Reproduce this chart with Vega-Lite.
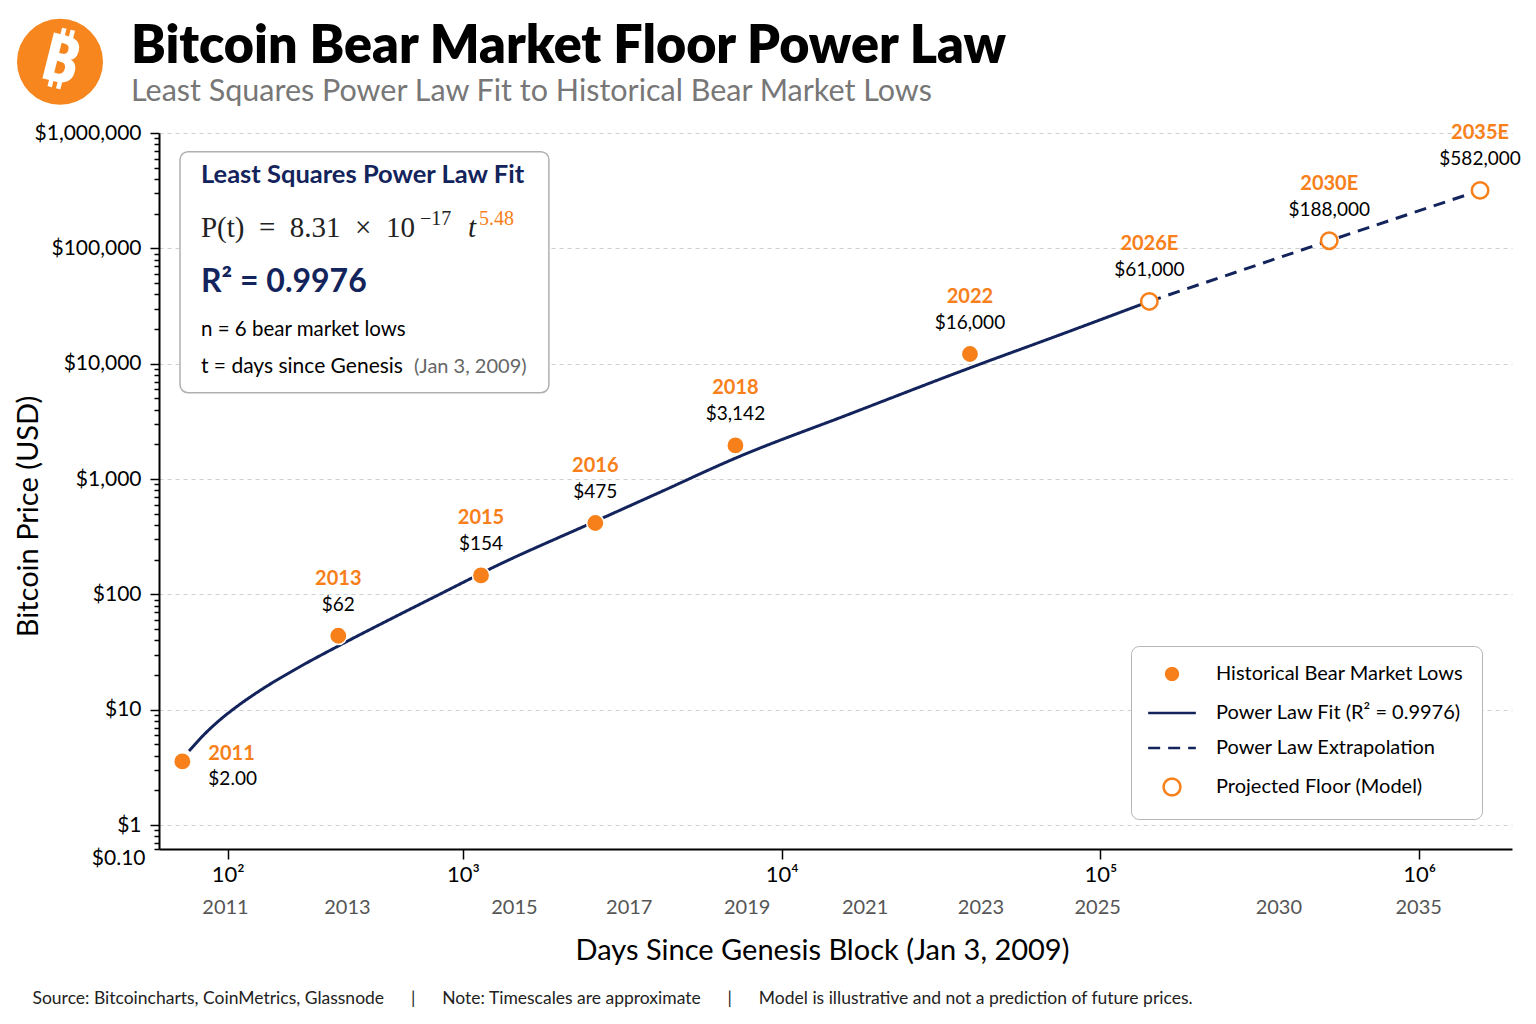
{
  "$schema": "https://vega.github.io/schema/vega-lite/v6.json",
  "usermeta": {"embedOptions": {"actions": false}},
  "width": 1353,
  "height": 716,
  "autosize": {"type": "none"},
  "padding": {"left": 159, "top": 133, "right": 24, "bottom": 175},
  "background": "white",
  "config": {"font": "Lato", "view": {"stroke": null}},
  "title": {
    "text": "Bitcoin Bear Market Floor Power Law",
    "subtitle": "Least Squares Power Law Fit to Historical Bear Market Lows",
    "anchor": "start",
    "frame": "group",
    "dx": -28,
    "offset": -90,
    "font": "Lato",
    "fontSize": 52,
    "fontWeight": 800,
    "color": "black",
    "subtitleFont": "Lato",
    "subtitleFontSize": 30.5,
    "subtitleColor": "#777777",
    "subtitlePadding": 3
  },
  "datasets": {
    "fit": [
      {"days": 68.42, "price": 4.385},
      {"days": 80.03, "price": 6.205},
      {"days": 92.68, "price": 8.173},
      {"days": 107.3, "price": 10.36},
      {"days": 137.1, "price": 14.67},
      {"days": 189.4, "price": 21.83},
      {"days": 300.1, "price": 36.33},
      {"days": 504.1, "price": 62.62},
      {"days": 798.6, "price": 100.5},
      {"days": 1251, "price": 172.7},
      {"days": 2593, "price": 428.2},
      {"days": 4146, "price": 767.3},
      {"days": 7176, "price": 1521},
      {"days": 16340, "price": 3662},
      {"days": 38860, "price": 9173},
      {"days": 74370, "price": 17730},
      {"days": 142400, "price": 34660}
    ],
    "points": [
      {"year": "2011", "label": "$2.00", "kind": "historical", "days": 64.1, "price": 3.56},
      {"year": "2013", "label": "$62", "kind": "historical", "days": 295, "price": 43.8},
      {"year": "2015", "label": "$154", "kind": "historical", "days": 1139, "price": 145.9},
      {"year": "2016", "label": "$475", "kind": "historical", "days": 2601, "price": 415.5},
      {"year": "2018", "label": "$3,142", "kind": "historical", "days": 7159, "price": 1955},
      {"year": "2022", "label": "$16,000", "kind": "historical", "days": 38960, "price": 12130},
      {"year": "2026E", "label": "$61,000", "kind": "projected", "days": 142400, "price": 34660},
      {"year": "2030E", "label": "$188,000", "kind": "projected", "days": 522300, "price": 116500},
      {"year": "2035E", "label": "$582,000", "kind": "projected", "days": 1553000, "price": 317900}
    ]
  },
  "resolve": {"axis": {"x": "independent"}},
  "layer": [
    {
      "data": {"name": "fit"},
      "mark": {"type": "line", "strokeWidth": 3, "interpolate": "monotone"},
      "encoding": {
        "x": {
          "field": "days",
          "type": "quantitative",
          "scale": {"type": "log", "domain": [51, 1000, 1956000], "range": [0, 304, 1353], "nice": false},
          "axis": {
            "orient": "bottom",
            "values": [100, 1000, 10000, 100000, 1000000],
            "labelExpr": "'10' + ['²','³','⁴','⁵','⁶'][round(log(datum.value)/LN10) - 2]",
            "title": null,
            "grid": false,
            "domainColor": "black",
            "domainWidth": 2,
            "tickColor": "black",
            "tickWidth": 1.5,
            "tickSize": 10,
            "labelFont": "Lato",
            "labelFontSize": 22,
            "labelColor": "black",
            "labelPadding": 5,
            "labelFlush": false,
            "labelOverlap": false
          }
        },
        "y": {
          "field": "price",
          "type": "quantitative",
          "scale": {"type": "log", "domain": [0.62, 1000000], "nice": false},
          "axis": {
            "values": [0.62, 0.7, 0.8, 0.9, 1, 2, 3, 4, 5, 6, 7, 8, 9, 10, 20, 30, 40, 50, 60, 70, 80, 90, 100, 200, 300, 400, 500, 600, 700, 800, 900, 1000, 2000, 3000, 4000, 5000, 6000, 7000, 8000, 9000, 10000, 20000, 30000, 40000, 50000, 60000, 70000, 80000, 90000, 100000, 200000, 300000, 400000, 500000, 600000, 700000, 800000, 900000, 1000000],
            "labelExpr": "datum.value < 0.65 ? '$0.10' : indexof([1,10,100,1000,10000,100000,1000000], datum.value) >= 0 ? '$' + format(datum.value, ',') : ''",
            "title": "Bitcoin Price (USD)",
            "titleFont": "Lato",
            "titleFontSize": 29,
            "titleFontWeight": "normal",
            "titleColor": "black",
            "titleX": -131,
            "titleY": 383,
            "titleBaseline": "middle",
            "grid": true,
            "gridDash": [4, 4],
            "gridColor": "#cfcfcf",
            "gridWidth": 1,
            "gridOpacity": {"condition": {"test": "indexof([1,10,100,1000,10000,100000,1000000], datum.value) >= 0", "value": 1}, "value": 0},
            "tickSize": {"condition": {"test": "indexof([1,10,100,1000,10000,100000,1000000], datum.value) >= 0", "value": 9}, "value": 5},
            "tickColor": "black",
            "tickWidth": 1.5,
            "domainColor": "black",
            "domainWidth": 2,
            "labelFont": "Lato",
            "labelFontSize": 21,
            "labelColor": "black",
            "labelPadding": 9,
            "labelOffset": {"condition": {"test": "datum.value < 0.65", "value": 9}, "value": 0},
            "labelOverlap": false,
            "labelBound": false
          }
        },
        "stroke": {
          "datum": "Power Law Fit (R² = 0.9976)",
          "type": "nominal",
          "scale": {
            "domain": ["Historical Bear Market Lows", "Power Law Fit (R² = 0.9976)", "Power Law Extrapolation", "Projected Floor (Model)"],
            "range": ["white", "#13235b", "#13235b", "#f7801a"]
          },
          "legend": {
            "title": null,
            "orient": "bottom-right",
            "offset": 30,
            "padding": 18,
            "fillColor": "white",
            "strokeColor": "#b5b5b5",
            "cornerRadius": 8,
            "labelFont": "Lato",
            "labelFontSize": 20,
            "labelColor": "black",
            "labelLimit": 400,
            "labelOffset": 34,
            "symbolOffset": 13,
            "symbolSize": 280,
            "symbolStrokeWidth": 2.5,
            "rowPadding": 15,
            "symbolOpacity": 1
          }
        },
        "strokeDash": {
          "datum": "Power Law Fit (R² = 0.9976)",
          "type": "nominal",
          "scale": {
            "domain": ["Historical Bear Market Lows", "Power Law Fit (R² = 0.9976)", "Power Law Extrapolation", "Projected Floor (Model)"],
            "range": [[1, 0], [1, 0], [12, 8], [1, 0]]
          },
          "legend": {"title": null}
        }
      }
    },
    {
      "data": {"name": "points"},
      "transform": [{"filter": "datum.kind == 'projected'"}],
      "mark": {"type": "line", "strokeWidth": 3},
      "encoding": {
        "x": {"field": "days", "type": "quantitative", "axis": null},
        "y": {"field": "price", "type": "quantitative"},
        "stroke": {"datum": "Power Law Extrapolation", "type": "nominal", "legend": {"title": null}},
        "strokeDash": {"datum": "Power Law Extrapolation", "type": "nominal", "legend": {"title": null}}
      }
    },
    {
      "data": {"values": [{}]},
      "mark": {"type": "rect", "fill": "white", "stroke": "#b0b0b0", "strokeWidth": 1.5, "cornerRadius": 8},
      "encoding": {
        "x": {"datum": 62.65, "type": "quantitative", "axis": null},
        "x2": {"datum": 1860},
        "y": {"datum": 688700, "type": "quantitative"},
        "y2": {"datum": 5601}
      }
    },
    {
      "data": {"values": [{}]},
      "mark": {"type": "circle", "size": 7400, "color": "#f7861f", "opacity": 1},
      "encoding": {
        "x": {"datum": 19.35, "type": "quantitative", "axis": null},
        "y": {"datum": 4140000, "type": "quantitative"}
      }
    },
    {
      "data": {"values": [{}]},
      "mark": {"type": "text", "text": "₿", "font": "Noto Sans", "fontSize": 66, "fontWeight": "bold", "color": "white", "angle": 14, "align": "center", "baseline": "middle"},
      "encoding": {
        "x": {"datum": 19.35, "type": "quantitative", "axis": null},
        "y": {"datum": 4140000, "type": "quantitative"}
      }
    },
    {
      "data": {"name": "points"},
      "transform": [{"filter": "datum.kind == 'historical'"}],
      "mark": {"type": "point", "filled": true, "size": 300, "opacity": 1, "strokeWidth": 1.5},
      "encoding": {
        "x": {
          "field": "days",
          "type": "quantitative",
          "axis": {
            "orient": "bottom",
            "values": [97.3, 321, 1445, 3312, 7762, 18200, 42050, 97700, 361600, 993000],
            "labelExpr": "['2011','2013','2015','2017','2019','2021','2023','2025','2030','2035'][indexof([97.3,321,1445,3312,7762,18200,42050,97700,361600,993000], datum.value)]",
            "ticks": false,
            "tickSize": 0,
            "domain": false,
            "grid": false,
            "labelFont": "Lato",
            "labelFontSize": 20,
            "labelColor": "#555555",
            "labelPadding": 48,
            "labelFlush": false,
            "labelOverlap": false,
            "title": "Days Since Genesis Block (Jan 3, 2009)",
            "titleFont": "Lato",
            "titleFontSize": 29,
            "titleFontWeight": "normal",
            "titleColor": "black",
            "titleX": 663,
            "titleY": 101,
            "titleBaseline": "middle"
          }
        },
        "y": {"field": "price", "type": "quantitative"},
        "stroke": {"datum": "Historical Bear Market Lows", "type": "nominal", "legend": {"title": null}},
        "fill": {
          "datum": "Historical Bear Market Lows",
          "type": "nominal",
          "scale": {
            "domain": ["Historical Bear Market Lows", "Power Law Fit (R² = 0.9976)", "Power Law Extrapolation", "Projected Floor (Model)"],
            "range": ["#f7801a", "transparent", "transparent", "white"]
          },
          "legend": {"title": null}
        },
        "shape": {
          "datum": "Historical Bear Market Lows",
          "type": "nominal",
          "scale": {
            "domain": ["Historical Bear Market Lows", "Power Law Fit (R² = 0.9976)", "Power Law Extrapolation", "Projected Floor (Model)"],
            "range": ["circle", "M-2.85,0H2.85", "M-2.85,0H2.85", "circle"]
          },
          "legend": {"title": null}
        }
      }
    },
    {
      "data": {"name": "points"},
      "transform": [{"filter": "datum.kind == 'projected'"}],
      "mark": {"type": "point", "filled": true, "size": 270, "opacity": 1, "strokeWidth": 2.5},
      "encoding": {
        "x": {"field": "days", "type": "quantitative", "axis": null},
        "y": {"field": "price", "type": "quantitative"},
        "stroke": {"datum": "Projected Floor (Model)", "type": "nominal", "legend": {"title": null}},
        "fill": {"datum": "Projected Floor (Model)", "type": "nominal", "legend": {"title": null}},
        "shape": {"datum": "Projected Floor (Model)", "type": "nominal", "legend": {"title": null}}
      }
    },
    {
      "data": {"name": "points"},
      "transform": [{"filter": "datum.year != '2011'"}],
      "mark": {"type": "text", "dy": -57, "font": "Lato", "fontSize": 20, "fontWeight": "bold", "color": "#f7801a", "baseline": "middle"},
      "encoding": {
        "x": {
          "field": "days",
          "type": "quantitative",
          "axis": {
            "orient": "bottom",
            "values": [1000],
            "labels": false,
            "ticks": false,
            "domain": false,
            "grid": false,
            "title": "Source: Bitcoincharts, CoinMetrics, Glassnode\u00a0\u00a0\u00a0\u00a0\u00a0\u00a0|\u00a0\u00a0\u00a0\u00a0\u00a0\u00a0Note: Timescales are approximate\u00a0\u00a0\u00a0\u00a0\u00a0\u00a0|\u00a0\u00a0\u00a0\u00a0\u00a0\u00a0Model is illustrative and not a prediction of future prices.",
            "titleFont": "Lato",
            "titleFontSize": 17.5,
            "titleFontWeight": "normal",
            "titleColor": "#222222",
            "titleAnchor": "start",
            "titleAlign": "left",
            "titleX": -127,
            "titleY": 149,
            "titleBaseline": "middle"
          }
        },
        "y": {"field": "price", "type": "quantitative"},
        "text": {"field": "year"}
      }
    },
    {
      "data": {"name": "points"},
      "transform": [{"filter": "datum.year != '2011'"}],
      "mark": {"type": "text", "dy": -31, "font": "Lato", "fontSize": 19, "color": "black", "baseline": "middle"},
      "encoding": {
        "x": {"field": "days", "type": "quantitative", "axis": null},
        "y": {"field": "price", "type": "quantitative"},
        "text": {"field": "label"}
      }
    },
    {
      "data": {"name": "points"},
      "transform": [{"filter": "datum.year == '2011'"}],
      "mark": {"type": "text", "dx": 26, "dy": -7, "align": "left", "font": "Lato", "fontSize": 20, "fontWeight": "bold", "color": "#f7801a", "baseline": "middle"},
      "encoding": {
        "x": {"field": "days", "type": "quantitative", "axis": null},
        "y": {"field": "price", "type": "quantitative"},
        "text": {"field": "year"}
      }
    },
    {
      "data": {"name": "points"},
      "transform": [{"filter": "datum.year == '2011'"}],
      "mark": {"type": "text", "dx": 26, "dy": 18, "align": "left", "font": "Lato", "fontSize": 19, "color": "black", "baseline": "middle"},
      "encoding": {
        "x": {"field": "days", "type": "quantitative", "axis": null},
        "y": {"field": "price", "type": "quantitative"},
        "text": {"field": "label"}
      }
    },
    {
      "data": {"values": [{}]},
      "mark": {"type": "text", "text": "Least Squares Power Law Fit", "align": "left", "baseline": "middle", "font": "Lato", "fontSize": 25.5, "fontWeight": "bold", "color": "#13235b"},
      "encoding": {
        "x": {"datum": 76.9, "type": "quantitative", "axis": null},
        "y": {"datum": 434800, "type": "quantitative"}
      }
    },
    {
      "data": {"values": [{}]},
      "mark": {"type": "text", "text": "P(t)\u00a0\u00a0=\u00a0\u00a08.31\u00a0\u00a0×\u00a0\u00a010", "align": "left", "baseline": "middle", "font": "Liberation Serif", "fontSize": 29, "color": "#222222"},
      "encoding": {
        "x": {"datum": 76.9, "type": "quantitative", "axis": null},
        "y": {"datum": 151000, "type": "quantitative"}
      }
    },
    {
      "data": {"values": [{}]},
      "mark": {"type": "text", "text": "−17", "align": "left", "baseline": "middle", "font": "Liberation Serif", "fontSize": 20, "color": "#222222"},
      "encoding": {
        "x": {"datum": 656.7, "type": "quantitative", "axis": null},
        "y": {"datum": 180700, "type": "quantitative"}
      }
    },
    {
      "data": {"values": [{}]},
      "mark": {"type": "text", "text": "t", "align": "left", "baseline": "middle", "font": "Liberation Serif", "fontStyle": "italic", "fontSize": 29, "color": "#222222"},
      "encoding": {
        "x": {"datum": 1036.8, "type": "quantitative", "axis": null},
        "y": {"datum": 151000, "type": "quantitative"}
      }
    },
    {
      "data": {"values": [{}]},
      "mark": {"type": "text", "text": "5.48", "align": "left", "baseline": "middle", "font": "Liberation Serif", "fontSize": 20, "color": "#f7801a"},
      "encoding": {
        "x": {"datum": 1122, "type": "quantitative", "axis": null},
        "y": {"datum": 180700, "type": "quantitative"}
      }
    },
    {
      "data": {"values": [{}]},
      "mark": {"type": "text", "text": "R² = 0.9976", "align": "left", "baseline": "middle", "font": "Lato", "fontSize": 32, "fontWeight": "bold", "color": "#13235b"},
      "encoding": {
        "x": {"datum": 76.9, "type": "quantitative", "axis": null},
        "y": {"datum": 51360, "type": "quantitative"}
      }
    },
    {
      "data": {"values": [{}]},
      "mark": {"type": "text", "text": "n = 6 bear market lows", "align": "left", "baseline": "middle", "font": "Lato", "fontSize": 20.5, "color": "black"},
      "encoding": {
        "x": {"datum": 76.9, "type": "quantitative", "axis": null},
        "y": {"datum": 19700, "type": "quantitative"}
      }
    },
    {
      "data": {"values": [{}]},
      "mark": {"type": "text", "text": "t = days since Genesis", "align": "left", "baseline": "middle", "font": "Lato", "fontSize": 21, "color": "black"},
      "encoding": {
        "x": {"datum": 76.9, "type": "quantitative", "axis": null},
        "y": {"datum": 9413, "type": "quantitative"}
      }
    },
    {
      "data": {"values": [{}]},
      "mark": {"type": "text", "text": "(Jan 3, 2009)", "align": "left", "baseline": "middle", "font": "Lato", "fontSize": 20, "color": "#666666"},
      "encoding": {
        "x": {"datum": 619, "type": "quantitative", "axis": null},
        "y": {"datum": 9413, "type": "quantitative"}
      }
    }
  ]
}
